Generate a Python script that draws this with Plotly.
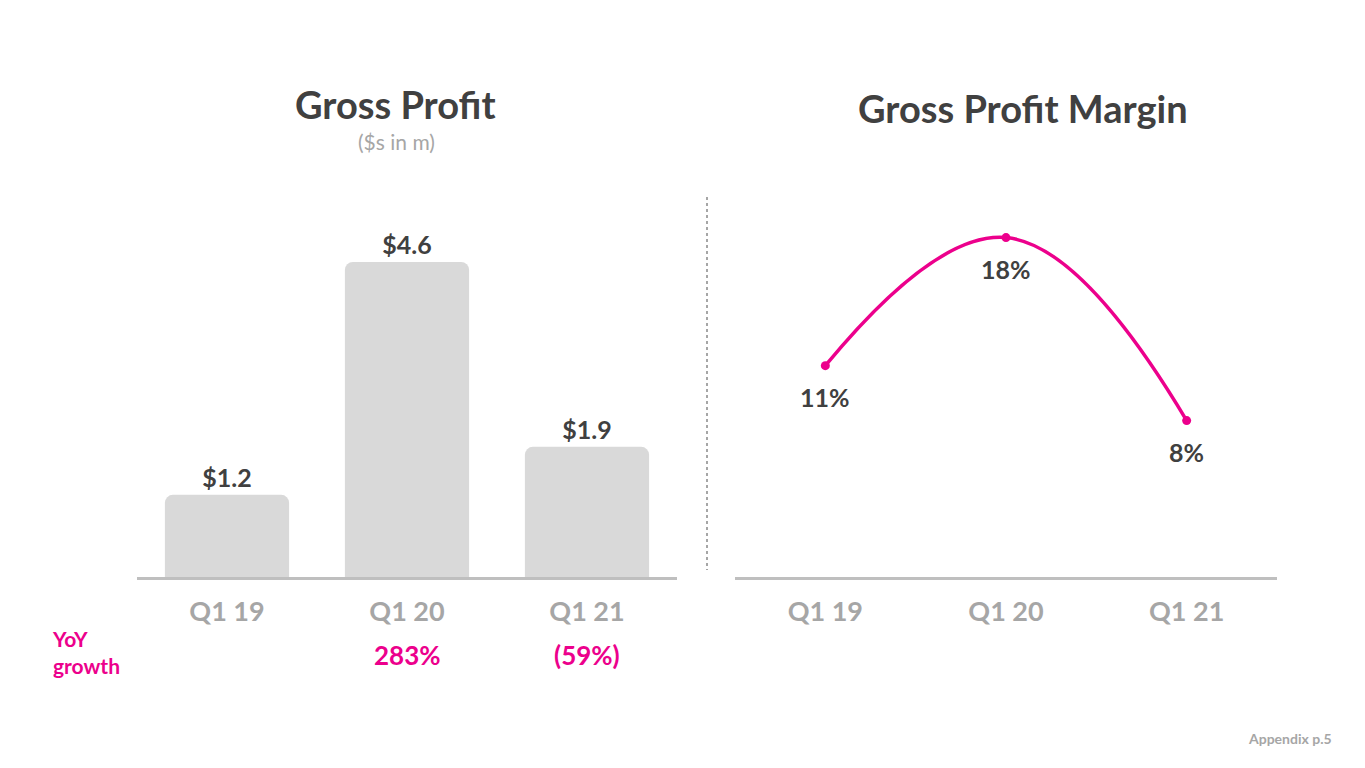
import plotly.graph_objects as go

categories = ["Q1 19", "Q1 20", "Q1 21"]
gross_profit = [1.2, 4.6, 1.9]
gross_profit_labels = ["$1.2", "$4.6", "$1.9"]
margin_pct = [11, 18, 8]
margin_labels = ["11%", "18%", "8%"]
yoy_growth = ["", "283%", "(59%)"]

# page body has an 8px margin; figure is sized so the page fills 1365x768
OFF = 8
W, H = 1365 - OFF, 768 - OFF
PINK = "#EC008C"
DARK = "#404040"
GREY = "#A6A6A6"
FONT = "Lato"

def px(p):
    return (p - OFF) / W

def py(p):
    return 1 - (p - OFF) / H

fig = go.Figure()

fig.add_trace(go.Bar(
    x=categories, y=gross_profit, text=gross_profit_labels,
    textposition="outside", cliponaxis=False,
    textfont=dict(family=FONT, size=25, color=DARK, weight="bold"),
    marker=dict(color="#D9D9D9", cornerradius=8, line=dict(width=0)),
    width=0.69, xaxis="x", yaxis="y", showlegend=False, hoverinfo="skip",
))

fig.add_trace(go.Scatter(
    x=categories, y=margin_pct, mode="lines+markers",
    line=dict(color=PINK, width=3.5, shape="spline", smoothing=1.2),
    marker=dict(color=PINK, size=9),
    xaxis="x2", yaxis="y2", showlegend=False, cliponaxis=False, hoverinfo="skip",
))

axis_common = dict(
    showgrid=False, zeroline=False, showline=True, linecolor="#BFBFBF", linewidth=3,
    tickfont=dict(family=FONT, size=27, color=GREY, weight="bold"),
    ticks="outside", ticklen=9, tickcolor="rgba(0,0,0,0)", fixedrange=True,
)

fig.update_layout(
    width=W, height=H, margin=dict(l=0, r=0, t=0, b=0),
    paper_bgcolor="white", plot_bgcolor="white",
    font=dict(family=FONT),
    xaxis=dict(domain=[px(137), px(677)], range=[-0.5, 2.5], anchor="y", **axis_common),
    yaxis=dict(domain=[py(577), py(214)], range=[0, 5.3], visible=False, fixedrange=True),
    xaxis2=dict(domain=[px(735), px(1277)], range=[-0.5, 2.5], anchor="y2", **axis_common),
    yaxis2=dict(domain=[py(577), py(201)], range=[-0.55, 20], visible=False, fixedrange=True),
)

annotations = []
for c, v, lab in zip(categories, margin_pct, margin_labels):
    annotations.append(dict(
        x=c, y=v, xref="x2", yref="y2", text=lab, showarrow=False,
        xanchor="center", yanchor="middle", yshift=-31,
        font=dict(family=FONT, size=25, color=DARK, weight="bold"),
    ))
for c, g in zip(categories, yoy_growth):
    if g:
        annotations.append(dict(
            x=c, y=py(655), xref="x", yref="paper", text=g, showarrow=False,
            xanchor="center", yanchor="middle",
            font=dict(family=FONT, size=26, color=PINK, weight="bold"),
        ))
annotations += [
    dict(x=px(395), y=py(104), xref="paper", yref="paper", text="Gross Profit",
         showarrow=False, xanchor="center", yanchor="middle",
         font=dict(family=FONT, size=38, color=DARK, weight="bold")),
    dict(x=px(396), y=py(141), xref="paper", yref="paper", text="($s in m)",
         showarrow=False, xanchor="center", yanchor="middle",
         font=dict(family=FONT, size=21, color=GREY)),
    dict(x=px(1023), y=py(108), xref="paper", yref="paper", text="Gross Profit Margin",
         showarrow=False, xanchor="center", yanchor="middle",
         font=dict(family=FONT, size=38, color=DARK, weight="bold")),
    dict(x=px(50), y=py(652), xref="paper", yref="paper", text="YoY<br>growth",
         showarrow=False, xanchor="left", yanchor="middle", align="left",
         font=dict(family=FONT, size=21, color=PINK, weight="bold")),
    dict(x=px(1334), y=py(738), xref="paper", yref="paper", text="Appendix p.5",
         showarrow=False, xanchor="right", yanchor="middle",
         font=dict(family=FONT, size=14, color=GREY, weight="bold")),
]
fig.update_layout(annotations=annotations)

fig.add_shape(type="line", xref="paper", yref="paper",
              x0=px(707), x1=px(707), y0=py(197), y1=py(570),
              line=dict(color=GREY, width=2, dash="dot"))

fig.write_html("out.html")
